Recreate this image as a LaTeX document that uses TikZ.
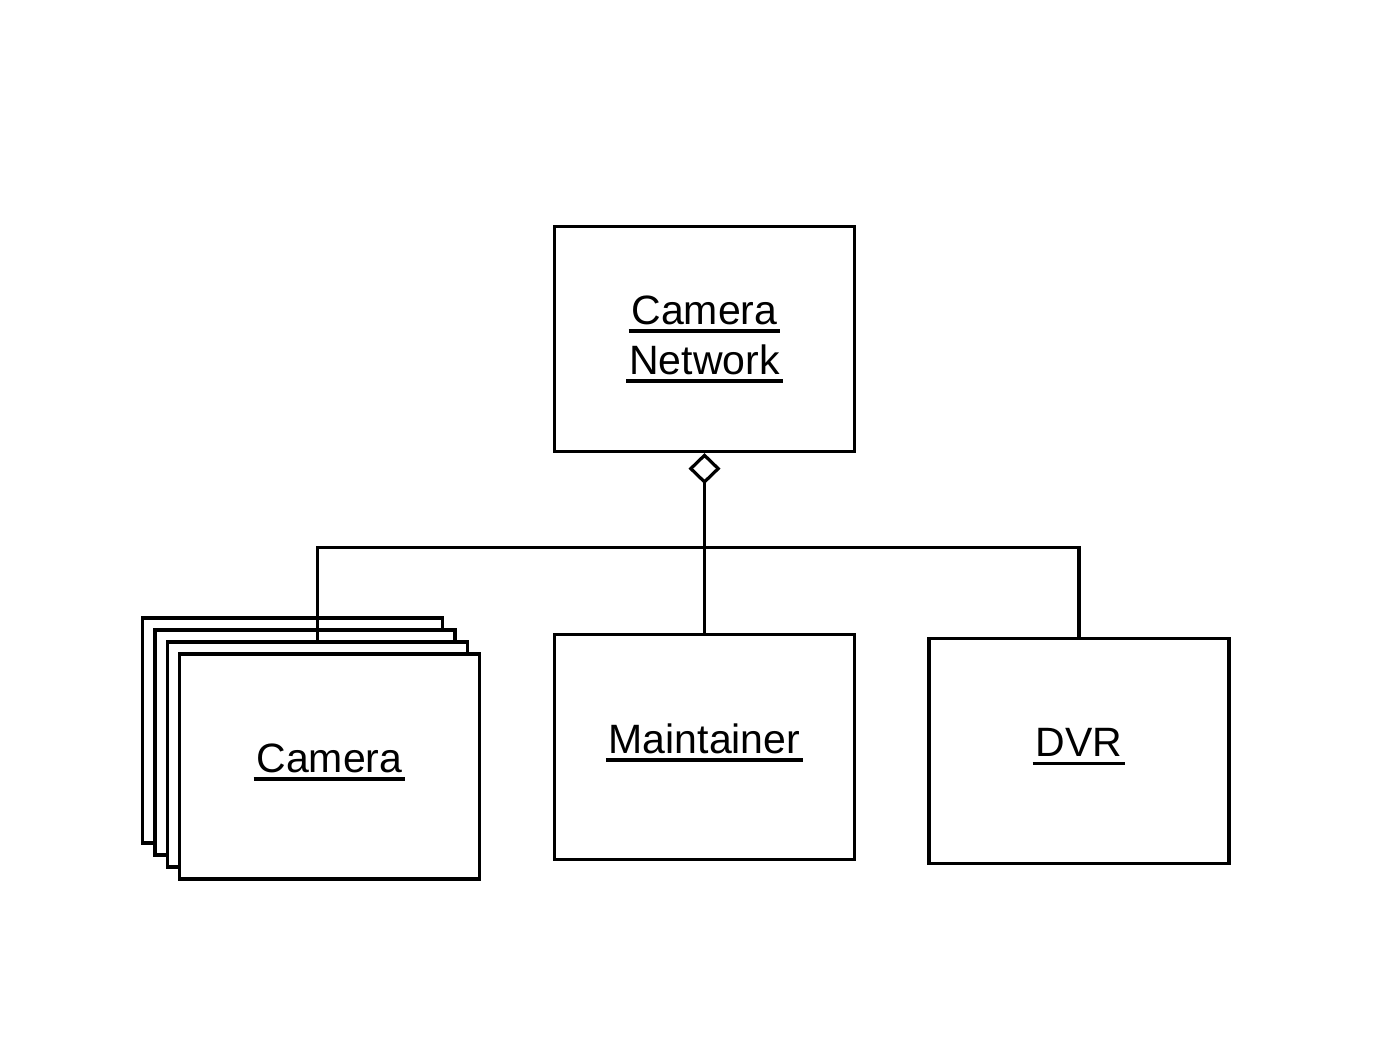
\documentclass[tikz,border=0pt]{standalone}
\usepackage{fontspec}
\setmainfont{Liberation Sans}
\usetikzlibrary{positioning,arrows.meta}
\newcommand\ulbox[1]{\setbox0\hbox{#1}\rlap{\kern-1.5pt\vrule height -2.5pt depth 4.25pt width \dimexpr\wd0+3pt\relax}\box0}

\begin{document}
\begin{tikzpicture}[node distance=2cm,on grid,line width=1.6pt,
    obj/.style={draw,fill=white,minimum width=150pt,minimum height=112.5pt,
      inner sep=0pt,align=center,font=\fontsize{20.5}{25}\selectfont},
    single/.style={obj,text depth=8.5pt}]
                \useasboundingbox (0,0) rectangle (691pt,-520.5pt);
                \node[obj](net) at (352.25pt,-169.5pt) {\ulbox{Camera}\\\ulbox{Network}};
                \node[single](maint) [below=204pt of net]{\ulbox{Maintainer}};
                \node[single](dvr) [below right=2pt and 187.25pt of maint]{\ulbox{DVR}};
                % stacked cameras, back to front
                \node[obj](cam1) [above left=8.25pt and 206pt of maint]{};
                \node[obj](cam2) [below right=6pt and 6.25pt of cam1]{};
                \node[obj](cam3) [below right=6pt and 6.25pt of cam2]{};
                \node[single](cam) [below right=6pt and 6pt of cam3]{\ulbox{Camera}};
                \coordinate (bus) at ([yshift=-47pt]net.south);
                \draw[{Diamond[open,length=15.5pt,width=16pt]}-] (net.south) -- (maint.north);
                \draw (cam3.north) |- (bus) -| (dvr.north);
            \end{tikzpicture}
\end{document}
